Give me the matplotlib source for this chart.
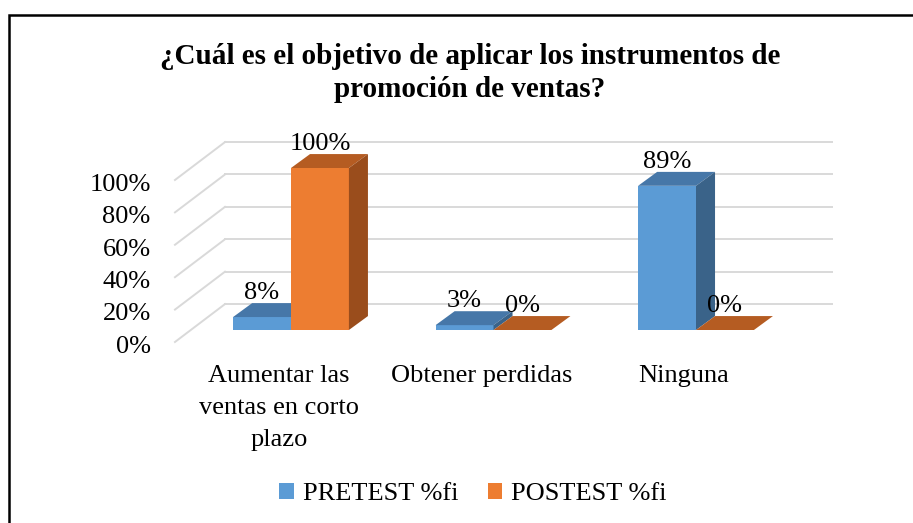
import matplotlib
matplotlib.use("Agg")
import matplotlib.pyplot as plt
from matplotlib.patches import Polygon, Rectangle, Patch

plt.rcParams['font.family'] = ['Liberation Serif', 'DejaVu Serif']

# datos
categorias = ["Aumentar las\nventas en corto\nplazo", "Obtener perdidas", "Ninguna"]
series = ["PRETEST %fi", "POSTEST %fi"]
pretest = [8, 3, 89]
postest = [100, 0, 0]
ticks = [0, 20, 40, 60, 80, 100]

# colores: frente, tapa, lado
col_frente = ["#5B9BD5", "#ED7D31"]
col_tapa = ["#4677A8", "#B55C22"]
col_lado = ["#3A6389", "#9A4D1C"]

FS = 19
W, H = 913, 523
fig = plt.figure(figsize=(W / 100, H / 100), dpi=100)
ax = fig.add_axes([0, 0, 1, 1])
# escala: categoria -> 202.5 px, 1% -> 1.62 px; origen en (291, 330)
ax.set_xlim(-291 / 202.5, (W - 291) / 202.5)
ax.set_ylim((330 - H) / 1.62, 330 / 1.62)
ax.axis("off")

w = 0.286          # ancho de barra
ddx, ddy = 0.094, 8.6    # profundidad de la barra
fx, fy = -0.079, -7.4    # plano frontal del eje
bx, by = 0.168, 16.0     # pared del fondo
x_izq, x_der = -0.326 - bx, 2.67

# rejilla en la pared del fondo y diagonales del lado izquierdo
for t in ticks:
    ax.plot([x_izq + bx, x_der], [t + by, t + by], color="#D9D9D9", lw=1.4, zorder=1)
    ax.plot([x_izq + fx, x_izq + bx], [t + fy, t + by], color="#D9D9D9", lw=1.4, zorder=1)
    ax.text(x_izq + fx - 0.12, t + fy - 3, f"{t}%", ha="right", va="center", fontsize=FS)

valores = [pretest, postest]
for i in range(len(categorias)):
    for s in range(2):
        v = valores[s][i]
        x0 = i - w + s * w
        z = 3 + i * 2 + s
        ax.add_patch(Rectangle((x0, 0), w, v, facecolor=col_frente[s], edgecolor="none", zorder=z))
        ax.add_patch(Polygon([(x0, v), (x0 + w, v), (x0 + w + ddx, v + ddy), (x0 + ddx, v + ddy)],
                             closed=True, facecolor=col_tapa[s], edgecolor="none", zorder=z))
        ax.add_patch(Polygon([(x0 + w, 0), (x0 + w + ddx, ddy), (x0 + w + ddx, v + ddy), (x0 + w, v)],
                             closed=True, facecolor=col_lado[s], edgecolor="none", zorder=z))
        ax.text(x0 + w / 2, v + ddy + 6, f"{v}%", ha="center", va="center", fontsize=FS, zorder=20)
    ax.text(i - 0.06, -21.5, categorias[i], ha="center", va="top", fontsize=FS, linespacing=1.58)

fig.text(470 / W, 1 - 73 / H, "¿Cuál es el objetivo de aplicar los instrumentos de\npromoción de ventas?",
         ha="center", va="center", fontsize=21, fontweight="bold", linespacing=1.27)

handles = [Patch(facecolor=col_frente[0]), Patch(facecolor=col_frente[1])]
fig.legend(handles, series, loc="center", bbox_to_anchor=(473 / W, 1 - 494 / H), ncol=2,
           frameon=False, fontsize=FS, handlelength=0.55, handleheight=0.55,
           handletextpad=0.35, columnspacing=1.1)

# marco exterior
fig.add_artist(Rectangle((9 / W, -0.1), 1.2, (H - 15) / H + 0.1, transform=fig.transFigure,
                         fill=False, edgecolor="black", lw=1.8))

fig.savefig("out.png", dpi=100)
